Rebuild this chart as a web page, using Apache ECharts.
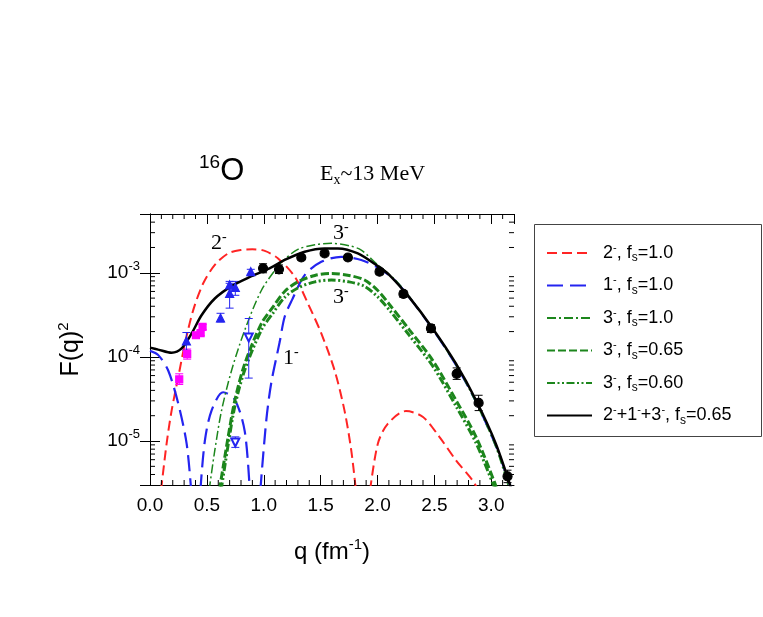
<!DOCTYPE html>
<html>
<head>
<meta charset="utf-8">
<script src="https://cdn.jsdelivr.net/npm/echarts@6/dist/echarts.min.js"></script>
<style>
html, body { margin: 0; padding: 0; background: #fff; }
#chart { width: 763px; height: 617px; }
</style>
</head>
<body>
<div id="chart"></div>
<script>
// axis ranges and tick labels
var xMin = 0, xMax = 3.2, xStep = 0.5;
var yMin = 3e-6, yMax = 5e-3;
var yDecades = [-6, -5, -4, -3];
var yMantissa = [2, 3, 4, 5, 6, 7, 8, 9];

// 2-, fs=1.0 (red)
var q2 = [0.097, 0.146, 0.19, 0.249, 0.307, 0.38, 0.468, 0.57, 0.687, 0.80, 0.90, 1.009, 1.126, 1.272, 1.389, 1.506, 1.623, 1.71, 1.769, 1.81,
          1.87, 1.935, 2.003, 2.09, 2.25, 2.40, 2.544, 2.69, 2.836, 2.885];
var f2 = [2.6e-6, 9.3e-6, 2.3e-5, 5.8e-5, 1.44e-4, 3.6e-4, 7.5e-4, 1.24e-3, 1.7e-3, 1.87e-3, 1.9e-3, 1.82e-3, 1.48e-3, 9e-4, 4.3e-4, 1.9e-4, 6.9e-5, 2.3e-5, 7.8e-6, 2.6e-6,
          null, 2.6e-6, 9.3e-6, 1.6e-5, 2.27e-5, 1.93e-5, 1.12e-5, 5.9e-6, 3.4e-6, 2.6e-6];

// 1-, fs=1.0 (blue)
var q1 = [0, 0.073, 0.16, 0.248, 0.322, 0.362, 0.40, 0.443, 0.482, 0.541, 0.643, 0.746, 0.833, 0.877, 0.93,
          0.97, 1.023, 1.067, 1.14, 1.184, 1.25, 1.36, 1.506, 1.68, 1.857, 2.018, 2.15, 2.3, 2.5, 2.7, 2.87, 3.04, 3.18];
var f1 = [1.18e-4, 1.05e-4, 6.9e-5, 2.8e-5, 9.3e-6, 2.6e-6, null, 2.6e-6, 1.0e-5, 2.3e-5, 3.8e-5, 3.1e-5, 1.3e-5, 2.6e-6, null,
          2.6e-6, 1.8e-5, 5e-5, 1.5e-4, 3e-4, 4.8e-4, 9.4e-4, 1.35e-3, 1.55e-3, 1.42e-3, 1.12e-3, 8.2e-4, 4.7e-4, 2.0e-4, 7.6e-5, 2.85e-5, 8.8e-6, 2.6e-6];

// 3-, fs=1.0 (thin green)
var q3 = [0.52, 0.57, 0.629, 0.717, 0.833, 0.98, 1.126, 1.184, 1.30, 1.45, 1.594, 1.75, 1.857, 2.0, 2.15, 2.3, 2.5, 2.7, 2.87, 3.04, 3.16];
var f3 = [2.6e-6, 7.8e-6, 2.3e-5, 6.9e-5, 2.08e-4, 6.2e-4, 1.2e-3, 1.45e-3, 1.9e-3, 2.15e-3, 2.24e-3, 2.1e-3, 1.86e-3, 1.25e-3, 8.4e-4, 4.8e-4, 2.0e-4, 7.6e-5, 2.8e-5, 8.5e-6, 2.6e-6];

// 3-, fs=0.65 (thick dashed green)
var q65 = [0.61, 0.687, 0.746, 0.833, 0.98, 1.08, 1.184, 1.30, 1.45, 1.594, 1.75, 1.886, 2.0, 2.105, 2.28, 2.485, 2.69, 2.866, 3.03, 3.05];
var f65 = [2.6e-6, 1.12e-5, 3.05e-5, 8.3e-5, 2.5e-4, 3.9e-4, 6.0e-4, 7.8e-4, 9.3e-4, 9.8e-4, 9.3e-4, 8.2e-4, 6.2e-4, 4.2e-4, 2.1e-4, 9.1e-5, 3.05e-5, 1.12e-5, 3.2e-6, 2.6e-6];

// 3-, fs=0.60 (thick dash-dot-dot green)
var q60 = [0.625, 0.687, 0.746, 0.833, 0.98, 1.08, 1.184, 1.30, 1.45, 1.594, 1.75, 1.886, 2.0, 2.105, 2.28, 2.485, 2.69, 2.866, 3.02, 3.04];
var f60 = [2.6e-6, 9e-6, 2.6e-5, 7e-5, 2.1e-4, 3.3e-4, 5.1e-4, 6.6e-4, 7.8e-4, 8.2e-4, 7.8e-4, 6.9e-4, 5.2e-4, 3.6e-4, 1.8e-4, 7.8e-5, 2.6e-5, 9.5e-6, 3.0e-6, 2.6e-6];

// 2-+1-+3-, fs=0.65 (black)
var qT = [0, 0.073, 0.19, 0.278, 0.366, 0.453, 0.57, 0.717, 0.892, 1.067, 1.184, 1.36, 1.535, 1.652, 1.827, 2.003, 2.105, 2.28, 2.485, 2.69, 2.866, 3.04, 3.18];
var fT = [1.29e-4, 1.22e-4, 1.12e-4, 1.26e-4, 1.9e-4, 3.13e-4, 4.95e-4, 6.95e-4, 9.1e-4, 1.16e-3, 1.42e-3, 1.78e-3, 1.95e-3, 1.95e-3, 1.7e-3, 1.2e-3, 9.4e-4, 5.1e-4, 2.18e-4, 8.3e-5, 3.05e-5, 9.3e-6, 2.6e-6];

// measured points
var qMag = [0.257, 0.327, 0.404, 0.445, 0.462];
var fMag = [5.4e-5, 1.08e-4, 1.81e-4, 1.92e-4, 2.27e-4];
var loMag = [4.7e-5, 9.4e-5, 1.68e-4, 1.8e-4, 2.12e-4];
var hiMag = [6.3e-5, 1.24e-4, 1.95e-4, 2.05e-4, 2.43e-4];

var qTri = [0.32, 0.62, 0.70, 0.70, 0.75, 0.886];
var fTri = [1.55e-4, 2.9e-4, 7.2e-4, 5.7e-4, 6.7e-4, 1.03e-3];
var loTri = [1.2e-4, 2.6e-4, 6.4e-4, 3.8e-4, 5.4e-4, 9.6e-4];
var hiTri = [1.95e-4, 3.3e-4, 7.9e-4, 7.5e-4, 7.9e-4, 1.1e-3];

var qOpen = [0.75, 0.868];
var fOpen = [9.6e-6, 1.7e-4];
var loOpen = [8.4e-6, 5.6e-5];
var hiOpen = [1.12e-5, 2.86e-4];

var qDot = [0.994, 1.134, 1.33, 1.535, 1.74, 2.018, 2.228, 2.47, 2.696, 2.889, 3.143];
var fDot = [1.13e-3, 1.1e-3, 1.52e-3, 1.7e-3, 1.52e-3, 1.03e-3, 5.6e-4, 2.18e-4, 6.3e-5, 2.84e-5, 3.8e-6];
var loDot = [1.0e-3, 0.98e-3, 1.42e-3, 1.6e-3, 1.43e-3, 0.95e-3, 5.1e-4, 1.95e-4, 5.4e-5, 2.3e-5, 3.2e-6];
var hiDot = [1.28e-3, 1.24e-3, 1.62e-3, 1.8e-3, 1.62e-3, 1.12e-3, 6.1e-4, 2.42e-4, 7.4e-5, 3.5e-5, 4.5e-6];

var legendNames = ['r2', 'b1', 'g3', 'g65', 'g60', 'tot'];
var legendText = {
  r2:  '{f|2}{sup|-}{b|, f}{sub|s}{b|=1.0}',
  b1:  '{f|1}{sup|-}{b|, f}{sub|s}{b|=1.0}',
  g3:  '{f|3}{sup|-}{b|, f}{sub|s}{b|=1.0}',
  g65: '{f|3}{sup|-}{b|, f}{sub|s}{b|=0.65}',
  g60: '{f|3}{sup|-}{b|, f}{sub|s}{b|=0.60}',
  tot: '{f|2}{sup|-}{b|+1}{sup|-}{b|+3}{sup|-}{b|, f}{sub|s}{b|=0.65}'
};

var SANS = 'Liberation Sans, Arial, sans-serif';
var SERIF = 'Liberation Serif, Times New Roman, serif';
var RED = '#ff2424', BLUE = '#2424f0', GREEN = '#1c861c', MAG = '#ff00ff';

function pairs(q, f) {
  return q.map(function (x, i) { return [x, f[i] == null ? '-' : f[i]]; });
}

function curve(name, q, f, color, width, dash, z) {
  return {
    name: name, type: 'line', data: pairs(q, f), smooth: 0.3,
    symbol: 'none', clip: true, z: z || 2,
    lineStyle: { color: color, width: width, type: dash },
    itemStyle: { color: color }
  };
}

function errBars(q, lo, hi, color, cap) {
  return {
    type: 'custom', silent: true, z: 3,
    data: q.map(function (x, i) { return [x, lo[i], hi[i]]; }),
    encode: { x: 0, y: [1, 2] },
    renderItem: function (params, api) {
      var a = api.coord([api.value(0), api.value(1)]);
      var b = api.coord([api.value(0), api.value(2)]);
      var st = { stroke: color, lineWidth: 1 };
      return { type: 'group', children: [
        { type: 'line', shape: { x1: a[0], y1: a[1], x2: b[0], y2: b[1] }, style: st },
        { type: 'line', shape: { x1: a[0] - cap, y1: a[1], x2: a[0] + cap, y2: a[1] }, style: st },
        { type: 'line', shape: { x1: b[0] - cap, y1: b[1], x2: b[0] + cap, y2: b[1] }, style: st }
      ] };
    }
  };
}

function points(q, f, symbol, size, color, rotate) {
  return {
    type: 'scatter', data: pairs(q, f), symbol: symbol, symbolSize: size,
    symbolRotate: rotate || 0, z: 4, silent: true,
    itemStyle: { color: color, borderColor: color, borderWidth: 1.2, opacity: 1 }
  };
}

// log minor ticks (2..9 per decade) drawn on the left and right frame
var yMinor = [];
yDecades.forEach(function (d) {
  yMantissa.forEach(function (m) {
    var v = m * Math.pow(10, d);
    if (v > yMin * 1.001 && v < yMax * 0.999) yMinor.push([xMin, v]);
  });
});
var xMinor = [];
for (var k = 1; k * 0.1 < xMax - 1e-9; k++) {
  if (k % 5 !== 0) xMinor.push([+(k * 0.1).toFixed(1), yMin]);
}

var yMinorSeries = {
  type: 'custom', silent: true, z: 5, data: yMinor, encode: { x: 0, y: 1 },
  renderItem: function (params, api) {
    var cs = params.coordSys;
    var p = api.coord([xMin, api.value(1)]);
    var st = { stroke: '#000', lineWidth: 1 };
    return { type: 'group', children: [
      { type: 'line', shape: { x1: cs.x, y1: p[1], x2: cs.x + 5, y2: p[1] }, style: st },
      { type: 'line', shape: { x1: cs.x + cs.width - 5, y1: p[1], x2: cs.x + cs.width, y2: p[1] }, style: st }
    ] };
  }
};
var xMinorSeries = {
  type: 'custom', silent: true, z: 5, data: xMinor, encode: { x: 0, y: 1 },
  renderItem: function (params, api) {
    var cs = params.coordSys;
    var p = api.coord([api.value(0), yMin]);
    var st = { stroke: '#000', lineWidth: 1 };
    return { type: 'group', children: [
      { type: 'line', shape: { x1: p[0], y1: cs.y + cs.height, x2: p[0], y2: cs.y + cs.height - 5 }, style: st },
      { type: 'line', shape: { x1: p[0], y1: cs.y, x2: p[0], y2: cs.y + 5 }, style: st }
    ] };
  }
};

var chart = echarts.init(document.getElementById('chart'));

var axisLine = { show: true, lineStyle: { color: '#000', width: 1 } };
var supRich = {
  b: { fontSize: 19, fontFamily: SANS, color: '#000', lineHeight: 26 },
  sup: { fontSize: 13, fontFamily: SANS, color: '#000', verticalAlign: 'top' }
};

var option = {
  backgroundColor: '#fff',
  animation: false,
  grid: { left: 150, top: 214, width: 364, height: 271 },
  xAxis: [{
    type: 'value', min: xMin, max: xMax, interval: xStep,
    axisLine: axisLine,
    axisTick: { inside: true, length: 10, lineStyle: { color: '#000' } },
    splitLine: { show: false },
    axisLabel: {
      fontSize: 19, fontFamily: SANS, color: '#000', margin: 11, showMaxLabel: false,
      formatter: function (v) { return v.toFixed(1); }
    },
    name: '{b|q (fm}{sup|-1}{b|)}', nameLocation: 'middle', nameGap: 52,
    nameTextStyle: { rich: {
      b: { fontSize: 24, fontFamily: SANS, color: '#000', lineHeight: 30 },
      sup: { fontSize: 15, fontFamily: SANS, color: '#000', verticalAlign: 'top' }
    } }
  }, {
    type: 'value', position: 'top', min: xMin, max: xMax, interval: xStep,
    axisLine: axisLine,
    axisTick: { inside: true, length: 10, lineStyle: { color: '#000' } },
    splitLine: { show: false }, axisLabel: { show: false }
  }],
  yAxis: [{
    type: 'log', logBase: 10, min: yMin, max: yMax,
    axisLine: axisLine,
    axisTick: { inside: true, length: 10, lineStyle: { color: '#000' } },
    splitLine: { show: false },
    axisLabel: {
      margin: 10, showMinLabel: false, showMaxLabel: false,
      formatter: function (v) { return '{b|10}{sup|' + Math.round(Math.log10(v)) + '}'; },
      rich: supRich
    },
    name: '{b|F(q)}{sup|2}', nameLocation: 'middle', nameGap: 64,
    nameTextStyle: { rich: {
      b: { fontSize: 25, fontFamily: SANS, color: '#000', lineHeight: 30 },
      sup: { fontSize: 15, fontFamily: SANS, color: '#000', verticalAlign: 'top' }
    } }
  }, {
    type: 'log', logBase: 10, min: yMin, max: yMax, position: 'right',
    axisLine: axisLine,
    axisTick: { inside: true, length: 10, lineStyle: { color: '#000' } },
    splitLine: { show: false }, axisLabel: { show: false }
  }],
  legend: {
    orient: 'vertical', left: 541, top: 237,
    itemWidth: 45, itemHeight: 14, itemGap: 10.5,
    selectedMode: false, data: legendNames,
    itemStyle: { opacity: 0 },
    formatter: function (n) { return legendText[n]; },
    textStyle: { rich: {
      f: { fontSize: 18, fontFamily: SANS, color: '#000', lineHeight: 22, padding: [0, 0, 0, 6] },
      b: { fontSize: 18, fontFamily: SANS, color: '#000', lineHeight: 22 },
      sup: { fontSize: 11, fontFamily: SANS, color: '#000', verticalAlign: 'top' },
      sub: { fontSize: 12, fontFamily: SANS, color: '#000', verticalAlign: 'bottom' }
    } }
  },
  graphic: [
    { type: 'rect', silent: true, shape: { x: 534.5, y: 224.5, width: 227, height: 212 },
      style: { fill: 'none', stroke: '#444', lineWidth: 1 } },
    { type: 'text', left: 199, top: 153, silent: true, style: {
      text: '{s|16}{o|O}', rich: {
        s: { fontSize: 19, fontFamily: SANS, fill: '#000', verticalAlign: 'top' },
        o: { fontSize: 31, fontFamily: SANS, fill: '#000', lineHeight: 36 }
      } } },
    { type: 'text', left: 320, top: 163, silent: true, style: {
      text: '{b|E}{sub|x}{b|~13 MeV}', rich: {
        b: { fontSize: 22, fontFamily: SERIF, fill: '#000', lineHeight: 26 },
        sub: { fontSize: 14, fontFamily: SERIF, fill: '#000', verticalAlign: 'bottom' }
      } } },
    { type: 'text', left: 211, top: 230, silent: true, style: {
      text: '{b|2}{sup|-}', rich: {
        b: { fontSize: 22, fontFamily: SERIF, fill: '#000', lineHeight: 26 },
        sup: { fontSize: 14, fontFamily: SERIF, fill: '#000', verticalAlign: 'top' } } } },
    { type: 'text', left: 333, top: 220, silent: true, style: {
      text: '{b|3}{sup|-}', rich: {
        b: { fontSize: 22, fontFamily: SERIF, fill: '#000', lineHeight: 26 },
        sup: { fontSize: 14, fontFamily: SERIF, fill: '#000', verticalAlign: 'top' } } } },
    { type: 'text', left: 333, top: 284, silent: true, style: {
      text: '{b|3}{sup|-}', rich: {
        b: { fontSize: 22, fontFamily: SERIF, fill: '#000', lineHeight: 26 },
        sup: { fontSize: 14, fontFamily: SERIF, fill: '#000', verticalAlign: 'top' } } } },
    { type: 'text', left: 283, top: 345, silent: true, style: {
      text: '{b|1}{sup|-}', rich: {
        b: { fontSize: 22, fontFamily: SERIF, fill: '#000', lineHeight: 26 },
        sup: { fontSize: 14, fontFamily: SERIF, fill: '#000', verticalAlign: 'top' } } } }
  ],
  series: [
    curve('r2', q2, f2, RED, 2, [10, 5]),
    curve('b1', q1, f1, BLUE, 2.2, [16, 7]),
    curve('g3', q3, f3, GREEN, 1.5, [9, 3, 2, 3]),
    curve('g65', q65, f65, GREEN, 3, [8, 3]),
    curve('g60', q60, f60, GREEN, 3, [8, 2.5, 2, 2.5, 2, 2.5]),
    curve('tot', qT, fT, '#000', 2.5, 'solid', 3),
    errBars(qMag, loMag, hiMag, MAG, 4),
    errBars(qTri, loTri, hiTri, BLUE, 4),
    errBars(qOpen, loOpen, hiOpen, BLUE, 4),
    errBars(qDot, loDot, hiDot, '#000', 4),
    points(qMag, fMag, 'rect', 7, MAG),
    points(qTri, fTri, 'triangle', 8, BLUE),
    points(qOpen, fOpen, 'emptyTriangle', 8, BLUE, 180),
    points(qDot, fDot, 'circle', 9, '#000'),
    yMinorSeries,
    xMinorSeries
  ]
};

chart.setOption(option);
</script>
</body>
</html>
